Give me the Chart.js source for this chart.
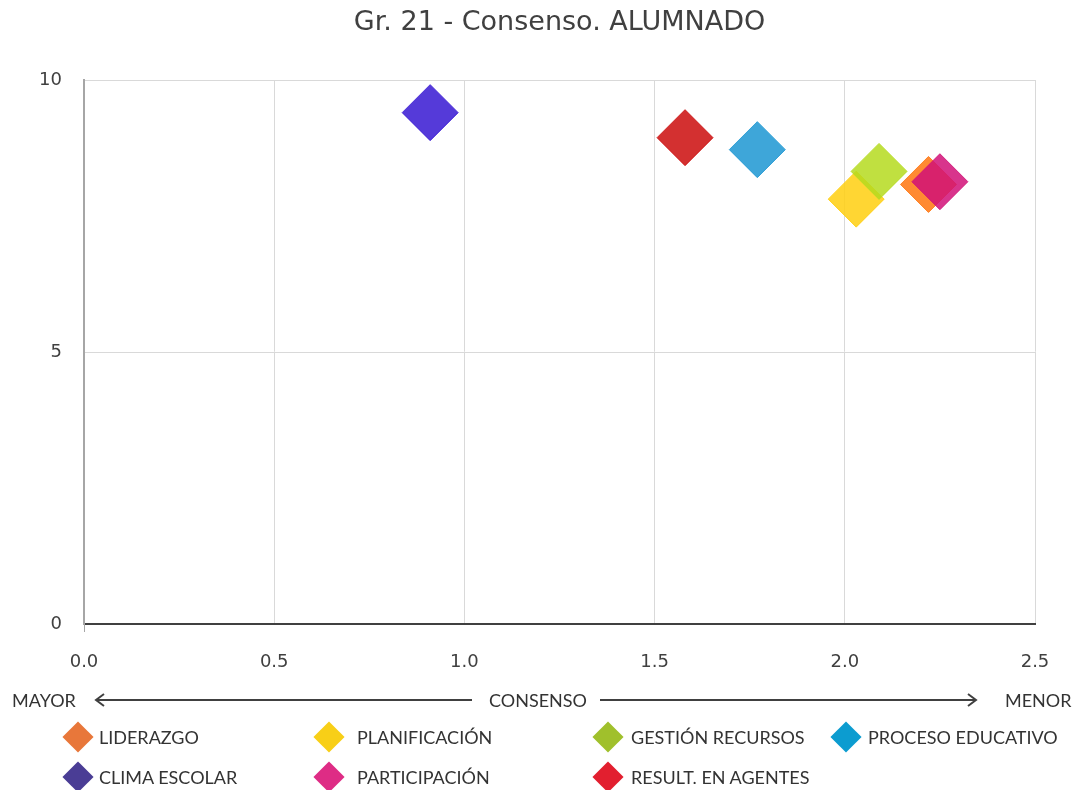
<!DOCTYPE html>
<html lang="es">
<head>
<meta charset="utf-8">
<title>Gr. 21 - Consenso. ALUMNADO</title>
<script src="https://cdn.jsdelivr.net/npm/chart.js@4.4.1/dist/chart.umd.min.js"></script>
<style>
  body { margin: 0; background: #fff; }
  #wrap { position: relative; width: 1076px; height: 790px; }
  #c { position: absolute; left: 0; top: 0; }
  #titulo { position: absolute; left: 84px; width: 951px; top: 5px; text-align: center; font-family: "DejaVu Sans", sans-serif; font-size: 27px; line-height: 32px; color: #404040; white-space: nowrap; }
  .txt { position: absolute; font-family: Lato, "Open Sans", sans-serif; font-size: 18px; line-height: 20px; color: #333; white-space: nowrap; }
  .dia { position: absolute; width: 22px; height: 22px; transform: rotate(45deg); }
  #arrows { position: absolute; left: 0; top: 0; pointer-events: none; }
</style>
</head>
<body>
<div id="wrap">
  <canvas id="c" width="1076" height="790"></canvas>
  <div id="titulo">Gr. 21 - Consenso. ALUMNADO</div>
  <svg id="arrows" width="1076" height="790">
    <g stroke="#404040" stroke-width="2" fill="none">
      <line x1="472" y1="700" x2="96" y2="700"/>
      <polyline points="104,694 96,700 104,706"/>
      <line x1="600" y1="700" x2="976" y2="700"/>
      <polyline points="968,694 976,700 968,706"/>
    </g>
  </svg>
  <div class="txt" style="left:12px;top:690px">MAYOR</div>
  <div class="txt" style="left:489px;top:690px">CONSENSO</div>
  <div class="txt" style="left:1005px;top:690px">MENOR</div>
  <div id="legend"></div>
</div>
<script>
// datos
const categorias = ['LIDERAZGO', 'PLANIFICACIÓN', 'GESTIÓN RECURSOS', 'PROCESO EDUCATIVO', 'CLIMA ESCOLAR', 'PARTICIPACIÓN', 'RESULT. EN AGENTES'];
const consenso = [2.22, 2.03, 2.09, 1.77, 0.91, 2.25, 1.58];
const valoracion = [8.08, 7.81, 8.32, 8.72, 9.40, 8.13, 8.94];
const coloresPunto = ['rgba(255,117,15,0.85)', 'rgba(255,207,15,0.85)', 'rgba(181,219,30,0.85)', 'rgba(28,150,210,0.85)', 'rgba(55,24,210,0.85)', 'rgba(209,17,120,0.85)', 'rgba(203,12,12,0.85)'];
const coloresLeyenda = ['#E8773A', '#F8CF17', '#A0C02C', '#0C9CD0', '#4A3D95', '#DE2C85', '#E21F2F'];
const xTicks = [0, 0.5, 1, 1.5, 2, 2.5];
const yTicks = [0, 5, 10];

function buildLegend() {
  const target = document.querySelector('#legend');
  const diaX = [78, 329, 608, 846];
  const txtX = [99, 357, 631, 868];
  const rowY = [737, 777];
  let html = '';
  categorias.forEach((name, i) => {
    const col = i % 4;
    const row = Math.floor(i / 4);
    const cx = diaX[col];
    const cy = rowY[row];
    html += `<div class="dia" style="left:${cx - 11}px;top:${cy - 11}px;background:${coloresLeyenda[i]}"></div>`;
    html += `<div class="txt" style="left:${txtX[col]}px;top:${cy - 10}px">${name}</div>`;
  });
  target.innerHTML = html;
}

function initChart() {
  // later series drawn on top, like the original
  const datasets = categorias.map((name, i) => ({
    label: name,
    order: categorias.length - i,
    data: [{ x: consenso[i], y: valoracion[i] }],
    pointStyle: 'rectRot',
    pointRadius: 28,
    pointBackgroundColor: coloresPunto[i],
    pointBorderColor: coloresPunto[i],
    pointBorderWidth: 1
  }));

  return new Chart(document.querySelector('#c'), {
    type: 'scatter',
    data: { datasets: datasets },
    options: {
      responsive: false,
      animation: false,
      devicePixelRatio: 1,
      layout: { padding: { left: 0, right: 41, top: 80, bottom: 0 } },
      plugins: {
        legend: { display: false },
        tooltip: { enabled: false },
        title: { display: false }
      },
      scales: {
        x: {
          type: 'linear',
          min: 0,
          max: 2.5,
          afterBuildTicks: (s) => { s.ticks = xTicks.map((v) => ({ value: v })); },
          afterFit: (s) => { s.height = 166; },
          ticks: {
            color: '#404040',
            padding: 20,
            font: { family: 'DejaVu Sans', size: 18 },
            callback: (v) => Number(v).toFixed(1)
          },
          grid: {
            color: (ctx) => (ctx.index === 0 ? 'rgba(0,0,0,0)' : '#D9D9D9'),
            tickColor: (ctx) => (ctx.index === 0 ? '#A6A6A6' : 'rgba(0,0,0,0)'),
            tickLength: 8,
            lineWidth: 1
          },
          border: { color: '#404040', width: 2 }
        },
        y: {
          type: 'linear',
          min: 0,
          max: 10,
          afterBuildTicks: (s) => { s.ticks = yTicks.map((v) => ({ value: v })); },
          afterFit: (s) => { s.width = 84; },
          ticks: {
            color: '#404040',
            padding: 22,
            font: { family: 'DejaVu Sans', size: 18 }
          },
          grid: {
            color: (ctx) => (ctx.index === 0 ? 'rgba(0,0,0,0)' : '#D9D9D9'),
            drawTicks: false,
            lineWidth: 1
          },
          border: { color: '#A6A6A6', width: 2 }
        }
      }
    }
  });
}

buildLegend();
initChart();
</script>
</body>
</html>
